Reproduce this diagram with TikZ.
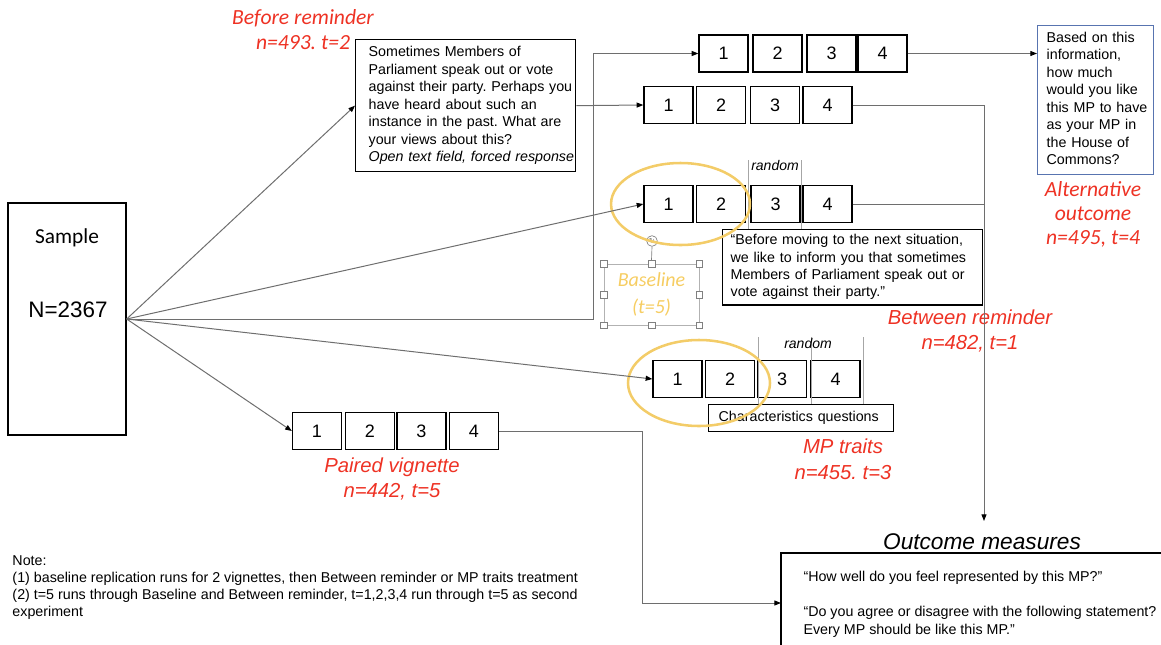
\documentclass[tikz,border=0pt]{standalone}
\usepackage{fontspec}
\setmainfont{Liberation Sans}
\newfontfamily\calibri{Carlito}
\newfontfamily\dejavu{DejaVu Sans}
\usetikzlibrary{arrows.meta}
\frenchspacing

\definecolor{redlab}{RGB}{238,50,36}
\definecolor{gold}{RGB}{243,204,104}
\definecolor{goldtext}{RGB}{246,205,98}
\definecolor{boxblue}{RGB}{88,116,176}
\definecolor{linegray}{RGB}{110,110,110}

% lines that keep their breaks
\newcommand{\boxlines}[1]{\begin{tabular}{@{}l@{}}#1\end{tabular}}

\tikzset{every picture/.style={line width=0.75pt}}
\tikzset{
  numbox/.style={draw, line width=1pt, minimum width=36.75pt, minimum height=27.75pt, inner sep=0pt, font=\fontsize{13.5}{16}\selectfont},
  txtbox/.style={draw, line width=1pt, anchor=north west, align=left, font=\fontsize{10.7}{13.1}\selectfont},
  redlab/.style={text=redlab, align=center, inner sep=0.75pt, font=\calibri\itshape\fontsize{16.2}{18.75}\selectfont},
  redlabsf/.style={text=redlab, align=center, inner sep=0.75pt, font=\itshape\fontsize{15.2}{19.2}\selectfont},
  smalltxt/.style={anchor=north west, align=left, inner sep=0.75pt, font=\fontsize{10.7}{13.1}\selectfont},
  conn/.style={draw=linegray, line width=0.75pt, -{Triangle[length=5pt,width=3.75pt,color=black]}},
  plainline/.style={draw=linegray, line width=0.75pt},
  randline/.style={draw=gray!70, line width=0.5pt},
  hilite/.style={draw=gold, line width=1.9pt},
  handle/.style={draw=gray, fill=white, line width=0.5pt, minimum size=5pt, inner sep=0pt}
}

\begin{document}
\begin{tikzpicture}[x=0.75pt,y=0.75pt,yscale=-1,xscale=1]
\useasboundingbox (0,0) rectangle (1161,644);

%Shape: Rectangle [sample]
\draw (67,319) node [draw, line width=1pt, minimum width=88.5pt, minimum height=174pt] (sample) {};
% Text Node
\draw (67,238) node [inner sep=0.75pt] [font=\calibri\fontsize{16}{18}\selectfont] (sampleLab) {Sample};
% Text Node
\draw (68,310) node [inner sep=0.75pt] [font=\fontsize{16.8}{20}\selectfont] (sampleN) {N=2367};

% Before reminder
\draw (303,29.5) node [redlab] (lbBefore) {Before reminder\\n=493. t=2};
\draw (355,39) node [txtbox, text width=145.5pt, inner xsep=9.75pt, inner ysep=3pt, minimum height=99pt] (brbox) {\boxlines{Sometimes Members of\\Parliament speak out or vote\\against their party. Perhaps you\\have heard about such an\\instance in the past. What are\\your views about this?\\\textit{Open text field, forced response}}};

%Shape: Rectangles, first row
\draw (723.5,53.5) node [numbox] (r1b1) {1};
\draw (777.5,53.5) node [numbox] (r1b2) {2};
\draw (831.5,53.5) node [numbox] (r1b3) {3};
\draw (882.5,53.5) node [numbox] (r1b4) {4};

%Shape: Rectangles, second row
\draw (668.5,105) node [numbox] (r2b1) {1};
\draw (721,105) node [numbox] (r2b2) {2};
\draw (775,105) node [numbox] (r2b3) {3};
\draw (827.5,105) node [numbox] (r2b4) {4};

%Shape: Rectangles, third row
\draw (668.5,204) node [numbox] (r3b1) {1};
\draw (721,204) node [numbox] (r3b2) {2};
\draw (775.5,204) node [numbox] (r3b3) {3};
\draw (827.5,204) node [numbox] (r3b4) {4};

%Shape: Rectangles, fourth row
\draw (677.5,379) node [numbox] (r4b1) {1};
\draw (730,379) node [numbox] (r4b2) {2};
\draw (782,379) node [numbox] (r4b3) {3};
\draw (835.5,379) node [numbox] (r4b4) {4};

%Shape: Rectangles, paired vignette
\draw (317,431) node [numbox] (pvb1) {1};
\draw (370,431) node [numbox] (pvb2) {2};
\draw (421.5,431) node [numbox] (pvb3) {3};
\draw (474,431) node [numbox] (pvb4) {4};

% Alternative outcome
\draw (1037,25) node [txtbox, draw=boxblue, text width=73.5pt, inner xsep=6.75pt, inner ysep=3pt, minimum height=111.75pt] (altbox) {\boxlines{Based on this\\information,\\how much\\would you like\\this MP to have\\as your MP in\\the House of\\Commons?}};
\draw (1093,214) node [redlab, font=\calibri\itshape\fontsize{16.2}{18}\selectfont] (lbAlt) {Alternative\\outcome\\n=495, t=4};

% random brackets, third row
\draw [randline] (748,160) -- (748,229);
\draw [randline] (801,160) -- (801,229);
\draw (775,165) node [inner sep=0.75pt] [font=\itshape\fontsize{10.5}{11}\selectfont] (rand3) {random};

% Between reminder
\draw (722,229) node [txtbox, fill=white, text width=183pt, inner xsep=6pt, inner ysep=2pt, minimum height=56.25pt] (quotebox) {\boxlines{``Before moving to the next situation,\\we like to inform you that sometimes\\Members of Parliament speak out or\\vote against their party.''}};
\draw (970,331) node [redlabsf] (lbBetween) {Between reminder\\n=482, t=1};

% random brackets, fourth row
\draw [randline] (758,337) -- (758,404);
\draw [randline] (811,337) -- (811,404);
\draw [randline] (863,337) -- (863,404);
\draw (808,343) node [inner sep=0.75pt] [font=\itshape\fontsize{10.5}{11}\selectfont] (rand4) {random};

% MP traits
\draw (708,404) node [txtbox, fill=white, text width=123.75pt, inner xsep=7.5pt, inner ysep=2pt, minimum height=20.25pt] (charbox) {Characteristics questions};
\draw (843,459) node [redlabsf] (lbTraits) {MP traits\\n=455. t=3};

% Paired vignette
\draw (392,479) node [redlabsf] (lbPaired) {Paired vignette\\n=442, t=5};

% Baseline (selected text box)
\draw (651.5,294.5) node [draw=gray!60, line width=0.5pt, minimum width=71.25pt, minimum height=45.75pt, align=center, text=goldtext, font=\calibri\itshape\fontsize{15}{20}\selectfont] (baseline) {Baseline\\(t=5)};
\draw (baseline.north west) node [handle] (hnw) {};
\draw (baseline.north) node [handle] (hn) {};
\draw (baseline.north east) node [handle] (hne) {};
\draw (baseline.west) node [handle] (hw) {};
\draw (baseline.east) node [handle] (he) {};
\draw (baseline.south west) node [handle] (hsw) {};
\draw (baseline.south) node [handle] (hs) {};
\draw (baseline.south east) node [handle] (hse) {};
\draw (652,241) node [circle, draw=gray, fill=white, line width=0.5pt, minimum size=8pt, inner sep=0pt, text=gray, font=\dejavu\fontsize{5.5}{5.5}\selectfont] (rot) {↻};
\draw [draw=gray, line width=0.5pt] (rot.south) -- (hn.north);

% Yellow highlights
\draw [hilite] (680.5,204) ellipse [x radius=52.1pt, y radius=30.75pt];
\draw [hilite] (699,383) ellipse [x radius=53.25pt, y radius=32.25pt];

% Outcome measures
\draw (982,542) node [inner sep=0.75pt] [font=\itshape\fontsize{17}{20}\selectfont] (omtitle) {Outcome measures};
\draw (781,553) node [anchor=north west, minimum width=285pt, minimum height=68.25pt, inner sep=0pt] (outbox) {};
\draw [line width=1pt] (outbox.north east) -- (outbox.north west) -- (outbox.south west);
\draw (802,570) node [smalltxt] (outtext) {``How well do you feel represented by this MP?''\\[13.1pt]``Do you agree or disagree with the following statement?\\Every MP should be like this MP.''};
\coordinate (omtop) at (984,521);
\coordinate (outin) at (781,603);

% Note
\draw (11,554) node [smalltxt, font=\fontsize{10.7}{12.9}\selectfont] (note) {Note:\\(1) baseline replication runs for 2 vignettes, then Between reminder or MP traits treatment\\(2) t=5 runs through Baseline and Between reminder, t=1,2,3,4 run through t=5 as second\\experiment};

%Straight Lines: fan from sample
\draw [conn] (sample.east) -- (brbox.west);
\draw [conn] (sample.east) -- (r3b1.west);
\draw [conn] (sample.east) -- ++(467,0) |- (r1b1.west);
\draw [conn] (sample.east) -- (r4b1.west);
\draw [conn] (sample.east) -- (pvb1.west);

%Straight Lines: onward
\draw [conn] (brbox.east) -- (r2b1.west);
\draw [conn] (r1b4.east) -- (r1b4.east -| altbox.west);
\draw [conn] (r2b4.east) -| (omtop);
\draw [plainline] (r3b4.east) -- (r3b4.east -| omtop);
\draw [conn] (pvb4.east) -- ++(143,0) |- (outin);

\end{tikzpicture}
\end{document}
